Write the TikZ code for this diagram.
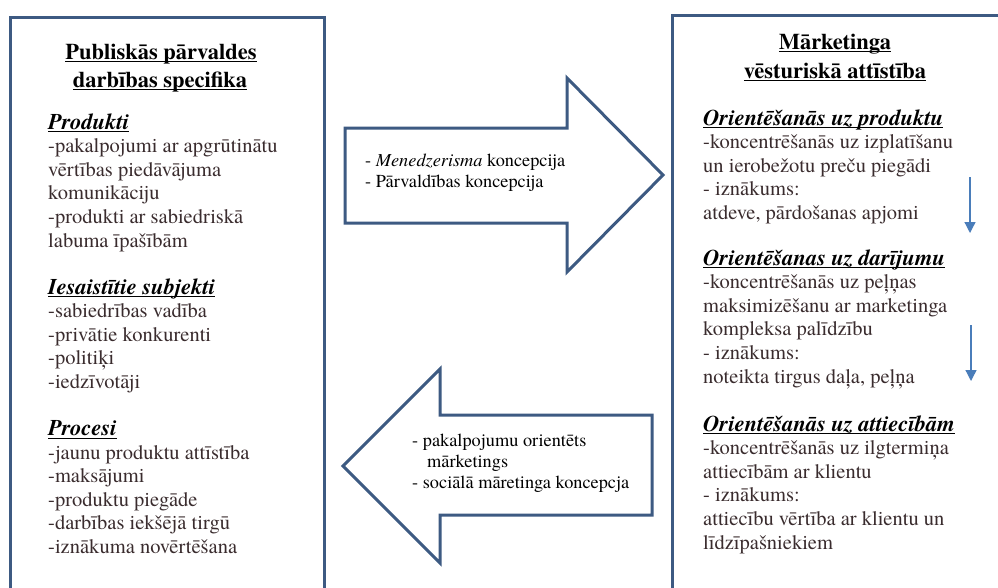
\documentclass[tikz,border=0pt]{standalone}
\usepackage{fontspec}
\setmainfont{texgyretermes}[
  Extension=.otf,
  UprightFont=*-regular,
  BoldFont=*-bold,
  ItalicFont=*-italic,
  BoldItalicFont=*-bolditalic]
\usetikzlibrary{arrows.meta}
\definecolor{framecol}{HTML}{3D5A82}
\definecolor{bodycol}{HTML}{3A2C2E}
\definecolor{tickblue}{HTML}{4A7DBA}
% one block of left-aligned lines; the first baseline is the node's base
\newcommand\lineblock[1]{\parbox[t]{320pt}{\raggedright\lineskiplimit=-100pt #1}}
% underline placed a little below the baseline
\newcommand\uline[1]{\setbox0\hbox{#1}\rlap{\vrule height -2.2pt depth 3.4pt width \wd0}\box0}
\tikzset{
  panel/.style={draw=framecol, line width=3pt},
  bigarrow/.style={draw=framecol, line width=3pt, fill=white, line join=miter},
  title/.style={font=\fontsize{22.5}{27}\selectfont\bfseries, text=black, anchor=base, inner sep=0pt},
  heading/.style={font=\fontsize{22.5}{23.6}\selectfont\bfseries\itshape, text=black, anchor=base west, inner sep=0pt},
  body/.style={font=\fontsize{20.5}{23.6}\selectfont, text=bodycol, anchor=base west, inner sep=0pt},
  arrowtext/.style={font=\fontsize{18.3}{21.2}\selectfont, text=black, anchor=base west, inner sep=0pt},
  tick/.style={draw=tickblue, line width=1.3pt, -{Triangle[width=11pt,length=11pt]}}
}
\begin{document}
\begin{tikzpicture}[x=1pt,y=-1pt]
\useasboundingbox (0,0) rectangle (998,587);
\fill[white] (0,0) rectangle (998,587);

% the two panels (they run past the lower edge)
\draw[panel] (10,17) rectangle (324,610);
\draw[panel] (672,15) rectangle (1010,610);

% left panel
\node[title] (ltitle1) at (161,59) {\uline{Publiskās pārvaldes}};
\node[title] (ltitle2) at (160,87) {\uline{darbības specifika}};

\node[heading] (hprod) at (48,129) {\uline{Produkti}};
\node[body] (bprod) at (48,152.6) {\lineblock{-pakalpojumi ar apgrūtinātu\\vērtības piedāvājuma\\komunikāciju\\-produkti ar sabiedriskā\\labuma īpašībām}};

\node[heading] (hsubj) at (48,294) {\uline{Iesaistītie subjekti}};
\node[body] (bsubj) at (48,317.6) {\lineblock{-sabiedrības vadība\\-privātie konkurenti\\-politiķi\\-iedzīvotāji}};

\node[heading] (hproc) at (48,435.5) {\uline{Procesi}};
\node[body] (bproc) at (48,459.1) {\lineblock{-jaunu produktu attīstība\\-maksājumi\\-produktu piegāde\\-darbības iekšējā tirgū\\-iznākuma novērtēšana}};

% right panel
\node[title] (rtitle1) at (835,49) {\uline{Mārketinga}};
\node[title] (rtitle2) at (835,78) {\uline{vēsturiskā attīstība}};

\node[heading] (hor1) at (703,125) {\uline{Orientēšanās uz produktu}};
\node[body] (bor1) at (703,148.6) {\lineblock{-koncentrēšanās uz izplatīšanu\\un ierobežotu preču piegādi\\- iznākums:\\atdeve, pārdošanas apjomi}};

\node[heading] (hor2) at (703,265) {\uline{Orientēšanas uz darījumu}};
\node[body] (bor2) at (703,288.6) {\lineblock{-koncentrēšanās uz peļņas\\maksimizēšanu ar marketinga\\kompleksa palīdzību\\- iznākums:\\noteikta tirgus daļa, peļņa}};

\node[heading] (hor3) at (703,431) {\uline{Orientēšanās uz attiecībām}};
\node[body] (bor3) at (703,454.6) {\lineblock{-koncentrēšanās uz ilgtermiņa\\attiecībām ar klientu\\- iznākums:\\attiecību vērtība ar klientu un\\līdzīpašniekiem}};

% downward ticks between the stages
\coordinate (t1a) at (970,177);
\coordinate (t1b) at (970,233);
\coordinate (t2a) at (971,325);
\coordinate (t2b) at (971,381);
\draw[tick] (t1a) -- (t1b);
\draw[tick] (t2a) -- (t2b);

% block arrow to the right
\draw[bigarrow] (345,128) -- (567,128) -- (567,78) -- (663,175)
  -- (567,272) -- (567,223) -- (345,223) -- cycle;
\node[arrowtext] (rtext) at (365,166) {\lineblock{- \textit{Menedzerisma} koncepcija\\- Pārvaldības koncepcija}};

% block arrow to the left
\draw[bigarrow] (652,415) -- (440,415) -- (440,369) -- (343,466)
  -- (440,563) -- (440,515) -- (652,515) -- cycle;
\node[arrowtext] (ltext) at (412,446) {\lineblock{- pakalpojumu orientēts\\\hspace*{15pt}mārketings\\- sociālā māretinga koncepcja}};
\end{tikzpicture}
\end{document}
